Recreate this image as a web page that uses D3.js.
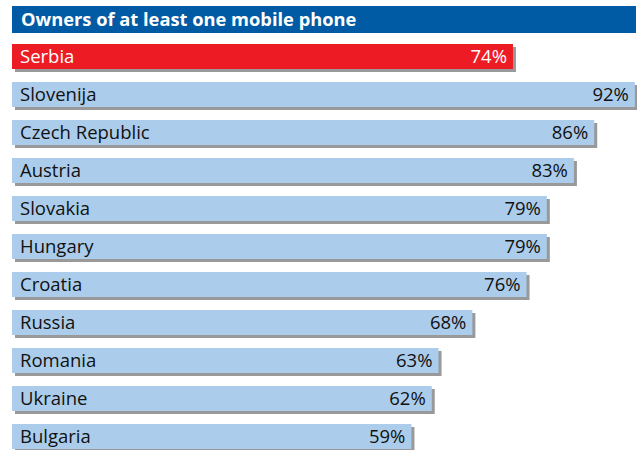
<!DOCTYPE html>
<html><head><meta charset="utf-8">
<script src="https://cdn.jsdelivr.net/npm/d3@7"></script>
<style>body{margin:0;background:#fff}svg{display:block}</style>
</head><body>
<svg id="c" width="637" height="450"></svg>
<script>
const title = "Owners of at least one mobile phone";
const countries = ["Serbia","Slovenija","Czech Republic","Austria","Slovakia","Hungary","Croatia","Russia","Romania","Ukraine","Bulgaria"];
const values = [74,92,86,83,79,79,76,68,63,62,59];
const highlight = ["Serbia"];

const svg = d3.select("#c");
const x = d3.scaleLinear().domain([0,100]).range([12, 689]);
const y = d3.scaleBand().domain(countries).range([44, 449]).paddingInner(13/38).paddingOuter(0);
const font = "'Open Sans', 'Noto Sans', sans-serif";

// title bar
svg.append("rect").attr("x",12).attr("y",6).attr("width",624).attr("height",27).attr("fill","#005BA4");
svg.append("text").attr("x",21).attr("y",26).attr("fill","#fff")
  .attr("font-family",font).attr("font-weight","bold").attr("font-size",18.3).text(title);

const data = countries.map((c,i)=>({c, v: values[i]}));
const g = svg.append("g").selectAll("g").data(data).join("g");
// shadow
g.append("rect").attr("x", d=>x(0)+3).attr("y", d=>y(d.c)+3)
  .attr("width", d=>x(d.v)-x(0)).attr("height", y.bandwidth()).attr("fill","#999");
g.append("rect").attr("x", x(0)).attr("y", d=>y(d.c))
  .attr("width", d=>x(d.v)-x(0)).attr("height", y.bandwidth())
  .attr("fill", d=>highlight.includes(d.c) ? "#ED1C24" : "#ABCDEB");
g.append("text").attr("x", 20).attr("y", d=>y(d.c)+19)
  .attr("font-family",font).attr("font-size",18.5)
  .attr("fill", d=>highlight.includes(d.c) ? "#fff" : "#111").text(d=>d.c);
g.append("text").attr("x", d=>x(d.v)-6).attr("y", d=>y(d.c)+19).attr("text-anchor","end")
  .attr("font-family",font).attr("font-size",18.5)
  .attr("fill", d=>highlight.includes(d.c) ? "#fff" : "#111").text(d=>d.v+"%");
</script>
</body></html>
